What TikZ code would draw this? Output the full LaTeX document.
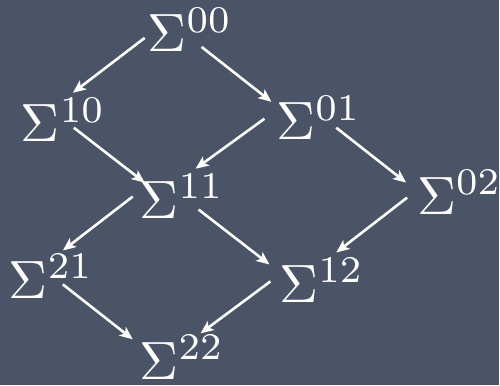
\RequirePackage{fix-cm}
\documentclass[tikz,border=0pt]{standalone}
\usepackage{xcolor}
\usepackage{amsmath}
\usepackage{tikz}
\usetikzlibrary{arrows.meta}

\definecolor{lousa}{RGB}{74,84,102}
% Sigma em cmr10 ampliado, expoentes em cmr7 ampliado
\DeclareFontShape{OT1}{cmr}{m}{n}{<-20> cmr7 <20-> cmr10}{}
\DeclareMathSizes{27}{27}{18.9}{13.5}

\begin{document}
\begin{tikzpicture}[x=0.5pt, y=-0.5pt,
  sig/.style={text=white, inner sep=0pt, outer sep=0pt, anchor=base west,
    font=\fontsize{27}{32}\selectfont},
  seta/.style={-{Stealth[length=6.5pt, width=5.5pt, inset=1.6pt]}, line width=1.3pt, white}]

% Fundo (lousa)
\fill[lousa] (0,0) rectangle (500,386);

% Nós
\node[sig] (s00) at (148,52) {$\Sigma^{00}$};
\node[sig] (s10) at (21,142) {$\Sigma^{10}$};
\node[sig] (s01) at (277,140) {$\Sigma^{01}$};
\node[sig] (s11) at (140,219) {$\Sigma^{11}$};
\node[sig] (s02) at (418,215) {$\Sigma^{02}$};
\node[sig] (s21) at (9,299) {$\Sigma^{21}$};
\node[sig] (s12) at (280,303) {$\Sigma^{12}$};
\node[sig] (s22) at (140,380) {$\Sigma^{22}$};

% Setas para baixo e para a esquerda
\draw[seta] ([shift={(-3,-14)}]s00.base west) -- ([shift={(52,-49)}]s10.base west);
\draw[seta] ([shift={(-12,-21)}]s01.base west) -- ([shift={(56,-50)}]s11.base west);
\draw[seta] ([shift={(-7,-22)}]s11.base west) -- ([shift={(54,-48)}]s21.base west);
\draw[seta] ([shift={(-10,-17)}]s02.base west) -- ([shift={(57,-50)}]s12.base west);
\draw[seta] ([shift={(-9,-21)}]s12.base west) -- ([shift={(61,-46)}]s22.base west);

% Setas para baixo e para a direita
\draw[seta] ([shift={(54,-5)}]s00.base west) -- ([shift={(-5,-38)}]s01.base west);
\draw[seta] ([shift={(53,-14)}]s10.base west) -- ([shift={(5,-36)}]s11.base west);
\draw[seta] ([shift={(60,-12)}]s01.base west) -- ([shift={(-11,-32)}]s02.base west);
\draw[seta] ([shift={(59,-9)}]s11.base west) -- ([shift={(-10,-38)}]s12.base west);
\draw[seta] ([shift={(54,-14)}]s21.base west) -- ([shift={(-7,-40)}]s22.base west);

\end{tikzpicture}
\end{document}
